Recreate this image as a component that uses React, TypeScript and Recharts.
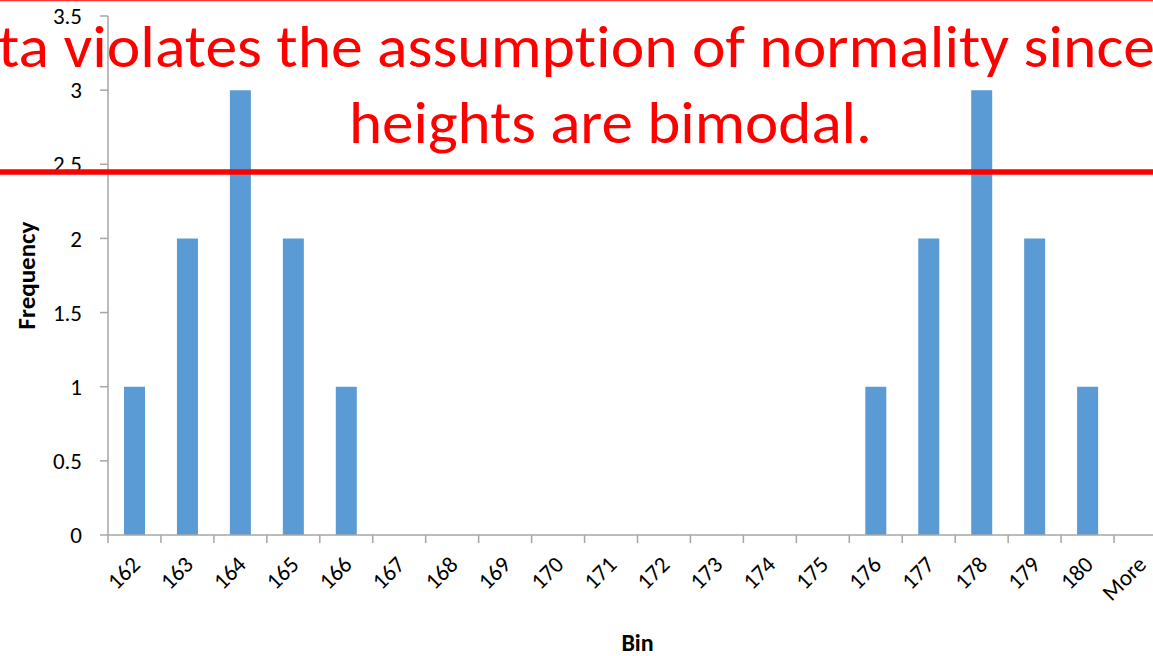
import React from 'react';
import { BarChart, Bar, XAxis, YAxis } from 'recharts';

const bins: string[] = ['162', '163', '164', '165', '166', '167', '168', '169', '170', '171', '172', '173', '174', '175', '176', '177', '178', '179', '180', 'More'];
const frequency: number[] = [1, 2, 3, 2, 1, 0, 0, 0, 0, 0, 0, 0, 0, 0, 1, 2, 3, 2, 1, 0];
const yTicks: number[] = [0, 0.5, 1, 1.5, 2, 2.5, 3, 3.5];
const annotationLine1 = 'ta violates the assumption of normality since';
const annotationLine2 = 'heights are bimodal.';

const data = bins.map((bin, i) => ({ bin, frequency: frequency[i] }));

const FONT = 'Carlito, Calibri, Lato, sans-serif';
const AXIS_GRAY = '#A6A6A6';
const BAR_BLUE = '#5B9BD5';
const RED = '#FF0000';

const XTick = (props: any) => {
  const { x, y, payload, index, visibleTicksCount, width } = props;
  let half = 26.5;
  if (payload && typeof payload.offset === 'number' && payload.offset > 0) half = payload.offset;
  else if (width && visibleTicksCount) half = width / visibleTicksCount / 2;
  const isLast = index === visibleTicksCount - 1;
  return (
    <g>
      <line x1={x - half} x2={x - half} y1={y} y2={y + 8} stroke={AXIS_GRAY} strokeWidth={1.5} />
      {isLast && <line x1={x + half} x2={x + half} y1={y} y2={y + 8} stroke={AXIS_GRAY} strokeWidth={1.5} />}
      <text
        transform={`translate(${x + 7}, ${y + 31}) rotate(-45)`}
        textAnchor="end"
        fontFamily={FONT}
        fontSize={23}
        fill="#000"
      >
        {payload.value}
      </text>
    </g>
  );
};

const YTitle = (props: any) => {
  const vb = props.viewBox || { x: 48, y: 16, width: 60, height: 519 };
  const cx = vb.x - 22;
  const cy = vb.y + vb.height / 2;
  return (
    <text
      transform={`translate(${cx}, ${cy}) rotate(-90)`}
      textAnchor="middle"
      dominantBaseline="central"
      fontFamily={FONT}
      fontWeight="bold"
      fontSize={25}
      fill="#000"
    >
      Frequency
    </text>
  );
};

const XTitle = (props: any) => {
  const vb = props.viewBox || { x: 108, y: 535, width: 1059, height: 100 };
  return (
    <text
      x={vb.x + vb.width / 2}
      y={vb.y + 107}
      textAnchor="middle"
      dominantBaseline="central"
      fontFamily={FONT}
      fontWeight="bold"
      fontSize={24}
      fill="#000"
    >
      Bin
    </text>
  );
};

export default function App() {
  return (
    <div
      style={{
        position: 'fixed',
        left: 0,
        top: 0,
        width: 1153,
        height: 656,
        overflow: 'hidden',
        background: '#fff',
        fontVariantLigatures: 'none',
      }}
    >
      <BarChart
        width={1180}
        height={656}
        data={data}
        margin={{ top: 16, right: 13, bottom: 21, left: 48 }}
        barSize={21}
      >
        <XAxis
          dataKey="bin"
          interval={0}
          height={100}
          tickLine={false}
          tickSize={0}
          tickMargin={0}
          axisLine={{ stroke: AXIS_GRAY, strokeWidth: 1.5 }}
          tick={<XTick />}
          label={<XTitle />}
        />
        <YAxis
          width={60}
          domain={[0, 3.5]}
          ticks={yTicks}
          interval={0}
          tickSize={8}
          tickMargin={18}
          axisLine={{ stroke: AXIS_GRAY, strokeWidth: 1.5 }}
          tickLine={{ stroke: AXIS_GRAY, strokeWidth: 1.5 }}
          tick={{ fill: '#000', fontSize: 23, fontFamily: FONT }}
          label={<YTitle />}
        />
        <Bar dataKey="frequency" fill={BAR_BLUE} isAnimationActive={false} />
      </BarChart>
      <svg
        width={1153}
        height={656}
        style={{ position: 'absolute', left: 0, top: 0, pointerEvents: 'none', fontVariantLigatures: 'none' }}
      >
        <line x1={0} x2={1153} y1={0.5} y2={0.5} stroke={RED} strokeOpacity={0.8} strokeWidth={1.5} />
        <text
          x={-2}
          y={67}
          fontFamily={FONT}
          fontSize={60}
          fill={RED}
          textLength={1157}
          lengthAdjust="spacingAndGlyphs"
        >
          {annotationLine1}
        </text>
        <text
          x={349}
          y={143}
          fontFamily={FONT}
          fontSize={60}
          fill={RED}
          textLength={523}
          lengthAdjust="spacingAndGlyphs"
        >
          {annotationLine2}
        </text>
        <line x1={0} x2={1153} y1={172} y2={172} stroke={RED} strokeWidth={5.5} />
      </svg>
    </div>
  );
}
